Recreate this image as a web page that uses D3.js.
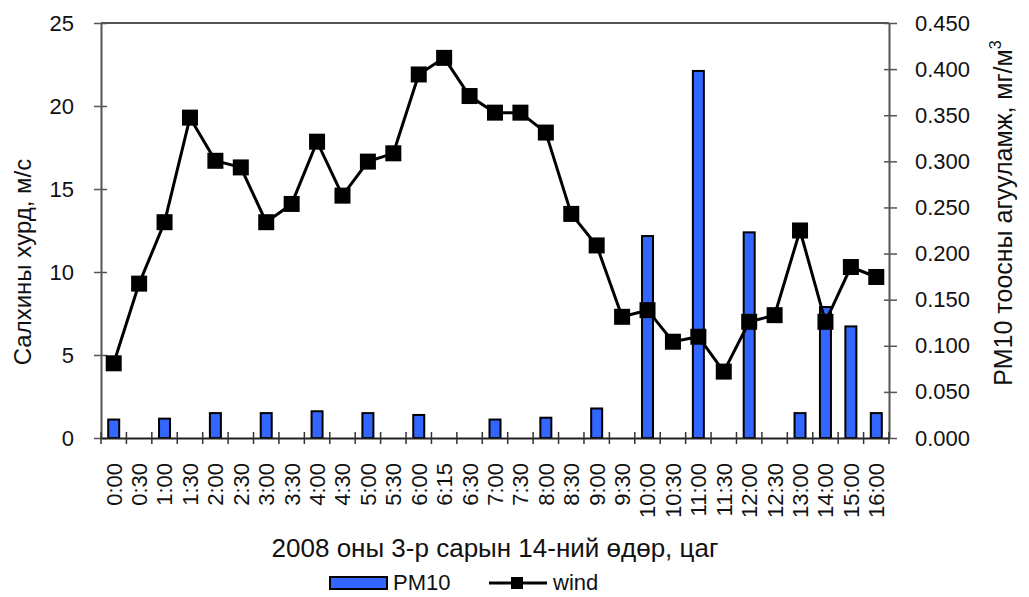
<!DOCTYPE html>
<html>
<head>
<meta charset="utf-8">
<script src="https://cdn.jsdelivr.net/npm/d3@7"></script>
<style>
  body { margin: 0; background: #fff; }
  svg { display: block; font-family: "Liberation Sans", Arial, sans-serif; }
</style>
</head>
<body>
<svg id="chart" width="1029" height="597"></svg>
<script>
// Time of observation (hours), 14 March 2008
const categories = ["0:00","0:30","1:00","1:30","2:00","2:30","3:00","3:30","4:00","4:30",
  "5:00","5:30","6:00","6:15","6:30","7:00","7:30","8:00","8:30","9:00","9:30",
  "10:00","10:30","11:00","11:30","12:00","12:30","13:00","14:00","15:00","16:00"];

// Wind speed, m/s
const wind = [4.5, 9.3, 13.0, 19.3, 16.7, 16.3, 13.0, 14.1, 17.85, 14.6, 16.65, 17.15,
  21.9, 22.9, 20.6, 19.6, 19.6, 18.4, 13.5, 11.6, 7.3, 7.7, 5.8, 6.1, 4.0, 7.0, 7.4,
  12.5, 7.0, 10.3, 9.7];

// PM10 concentration, mg/m3 (null = not measured)
const pm10 = [0.020, null, 0.021, null, 0.027, null, 0.027, null, 0.029, null, 0.027, null,
  0.025, null, null, 0.020, null, 0.022, null, 0.032, null, 0.219, null, 0.398, null,
  0.223, null, 0.027, 0.142, 0.121, 0.027];

const leftTicks = [0, 5, 10, 15, 20, 25];
const rightTicks = [0, 0.05, 0.1, 0.15, 0.2, 0.25, 0.3, 0.35, 0.4, 0.45];

const svg = d3.select("#chart");
const m = { left: 101, right: 889, top: 23, bottom: 438 };

const x = d3.scaleBand().domain(categories).range([m.left, m.right]).padding(0);
const yL = d3.scaleLinear().domain([0, 25]).range([m.bottom, m.top]);
const yR = d3.scaleLinear().domain([0, 0.45]).range([m.bottom, m.top]);

const axisColor = "#555";
const tickFont = 22;

// Top border of the plot area
svg.append("line")
  .attr("x1", m.left).attr("x2", m.right)
  .attr("y1", m.top).attr("y2", m.top)
  .attr("stroke", axisColor).attr("stroke-width", 2);

// PM10 bars
const barW = 11;
svg.append("g").selectAll("rect")
  .data(categories.map((c, i) => ({ c, v: pm10[i] })).filter(d => d.v != null))
  .join("rect")
  .attr("x", d => x(d.c) + x.bandwidth() / 2 - barW / 2)
  .attr("y", d => yR(d.v))
  .attr("width", barW)
  .attr("height", d => yR(0) - yR(d.v))
  .attr("fill", "#3366ff")
  .attr("stroke", "#000")
  .attr("stroke-width", 2);

// Left axis
const gL = svg.append("g").attr("transform", `translate(${m.left},0)`)
  .call(d3.axisLeft(yL).tickValues(leftTicks).tickSize(0).tickPadding(27).tickFormat(d3.format("d")));
gL.select(".domain").attr("stroke", axisColor).attr("stroke-width", 2);
gL.selectAll(".tick text").attr("font-size", tickFont).attr("fill", "#111")
  .attr("font-family", "Liberation Sans, Arial, sans-serif");
gL.selectAll(".tick").append("line").attr("x1", -7).attr("x2", 6)
  .attr("stroke", axisColor).attr("stroke-width", 1.5);

// Right axis
const gR = svg.append("g").attr("transform", `translate(${m.right},0)`)
  .call(d3.axisRight(yR).tickValues(rightTicks).tickSize(0).tickPadding(26).tickFormat(d3.format(".3f")));
gR.select(".domain").attr("stroke", axisColor).attr("stroke-width", 2);
gR.selectAll(".tick text").attr("font-size", tickFont).attr("fill", "#111")
  .attr("font-family", "Liberation Sans, Arial, sans-serif");
gR.selectAll(".tick").append("line").attr("x1", -5).attr("x2", 8)
  .attr("stroke", axisColor).attr("stroke-width", 1.5);

// Bottom axis with ticks at category boundaries
const gX = svg.append("g").attr("transform", `translate(0,${m.bottom})`)
  .call(d3.axisBottom(x).tickSize(0).tickPadding(0));
gX.select(".domain").attr("stroke", "#222").attr("stroke-width", 2);
gX.selectAll(".tick text")
  .attr("font-size", tickFont).attr("fill", "#111")
  .attr("font-family", "Liberation Sans, Arial, sans-serif")
  .attr("text-anchor", "end")
  .attr("transform", "rotate(-90)")
  .attr("x", -25).attr("y", 0).attr("dy", "0.36em");
const bounds = categories.map(c => x(c)).concat([m.right]);
svg.append("g").selectAll("line").data(bounds).join("line")
  .attr("x1", d => d).attr("x2", d => d)
  .attr("y1", m.bottom - 6).attr("y2", m.bottom + 6)
  .attr("stroke", "#333").attr("stroke-width", 1.5);

// Wind line with square markers
const line = d3.line()
  .x((d, i) => x(categories[i]) + x.bandwidth() / 2)
  .y(d => yL(d));
svg.append("path").datum(wind)
  .attr("d", line).attr("fill", "none")
  .attr("stroke", "#000").attr("stroke-width", 3);
const ms = 16;
svg.append("g").selectAll("rect").data(wind).join("rect")
  .attr("x", (d, i) => x(categories[i]) + x.bandwidth() / 2 - ms / 2)
  .attr("y", d => yL(d) - ms / 2)
  .attr("width", ms).attr("height", ms)
  .attr("fill", "#000");

// Axis titles
svg.append("text")
  .attr("transform", `translate(31,${262}) rotate(-90)`)
  .attr("text-anchor", "middle")
  .attr("font-size", 24).attr("fill", "#111")
  .text("Салхины хурд, м/с");

const rt = svg.append("text")
  .attr("transform", `translate(1012,${213}) rotate(-90)`)
  .attr("text-anchor", "middle")
  .attr("font-size", 25).attr("fill", "#111");
rt.append("tspan").text("РМ10 тоосны агууламж, мг/м");
rt.append("tspan").attr("font-size", 16).attr("dy", "-0.7em").text("3");

svg.append("text")
  .attr("x", 495).attr("y", 557)
  .attr("text-anchor", "middle")
  .attr("font-size", 26).attr("fill", "#111")
  .text("2008 оны 3-р сарын 14-ний өдөр, цаг");

// Legend
const lg = svg.append("g");
lg.append("rect").attr("x", 330).attr("y", 577).attr("width", 57).attr("height", 12)
  .attr("fill", "#3366ff").attr("stroke", "#000").attr("stroke-width", 2);
lg.append("text").attr("x", 393).attr("y", 590).attr("font-size", 22).attr("fill", "#111").text("PM10");
lg.append("line").attr("x1", 489).attr("x2", 547).attr("y1", 583).attr("y2", 583)
  .attr("stroke", "#000").attr("stroke-width", 3);
lg.append("rect").attr("x", 511).attr("y", 577).attr("width", 12).attr("height", 12).attr("fill", "#000");
lg.append("text").attr("x", 553).attr("y", 590).attr("font-size", 22).attr("fill", "#111").text("wind");
</script>
</body>
</html>
